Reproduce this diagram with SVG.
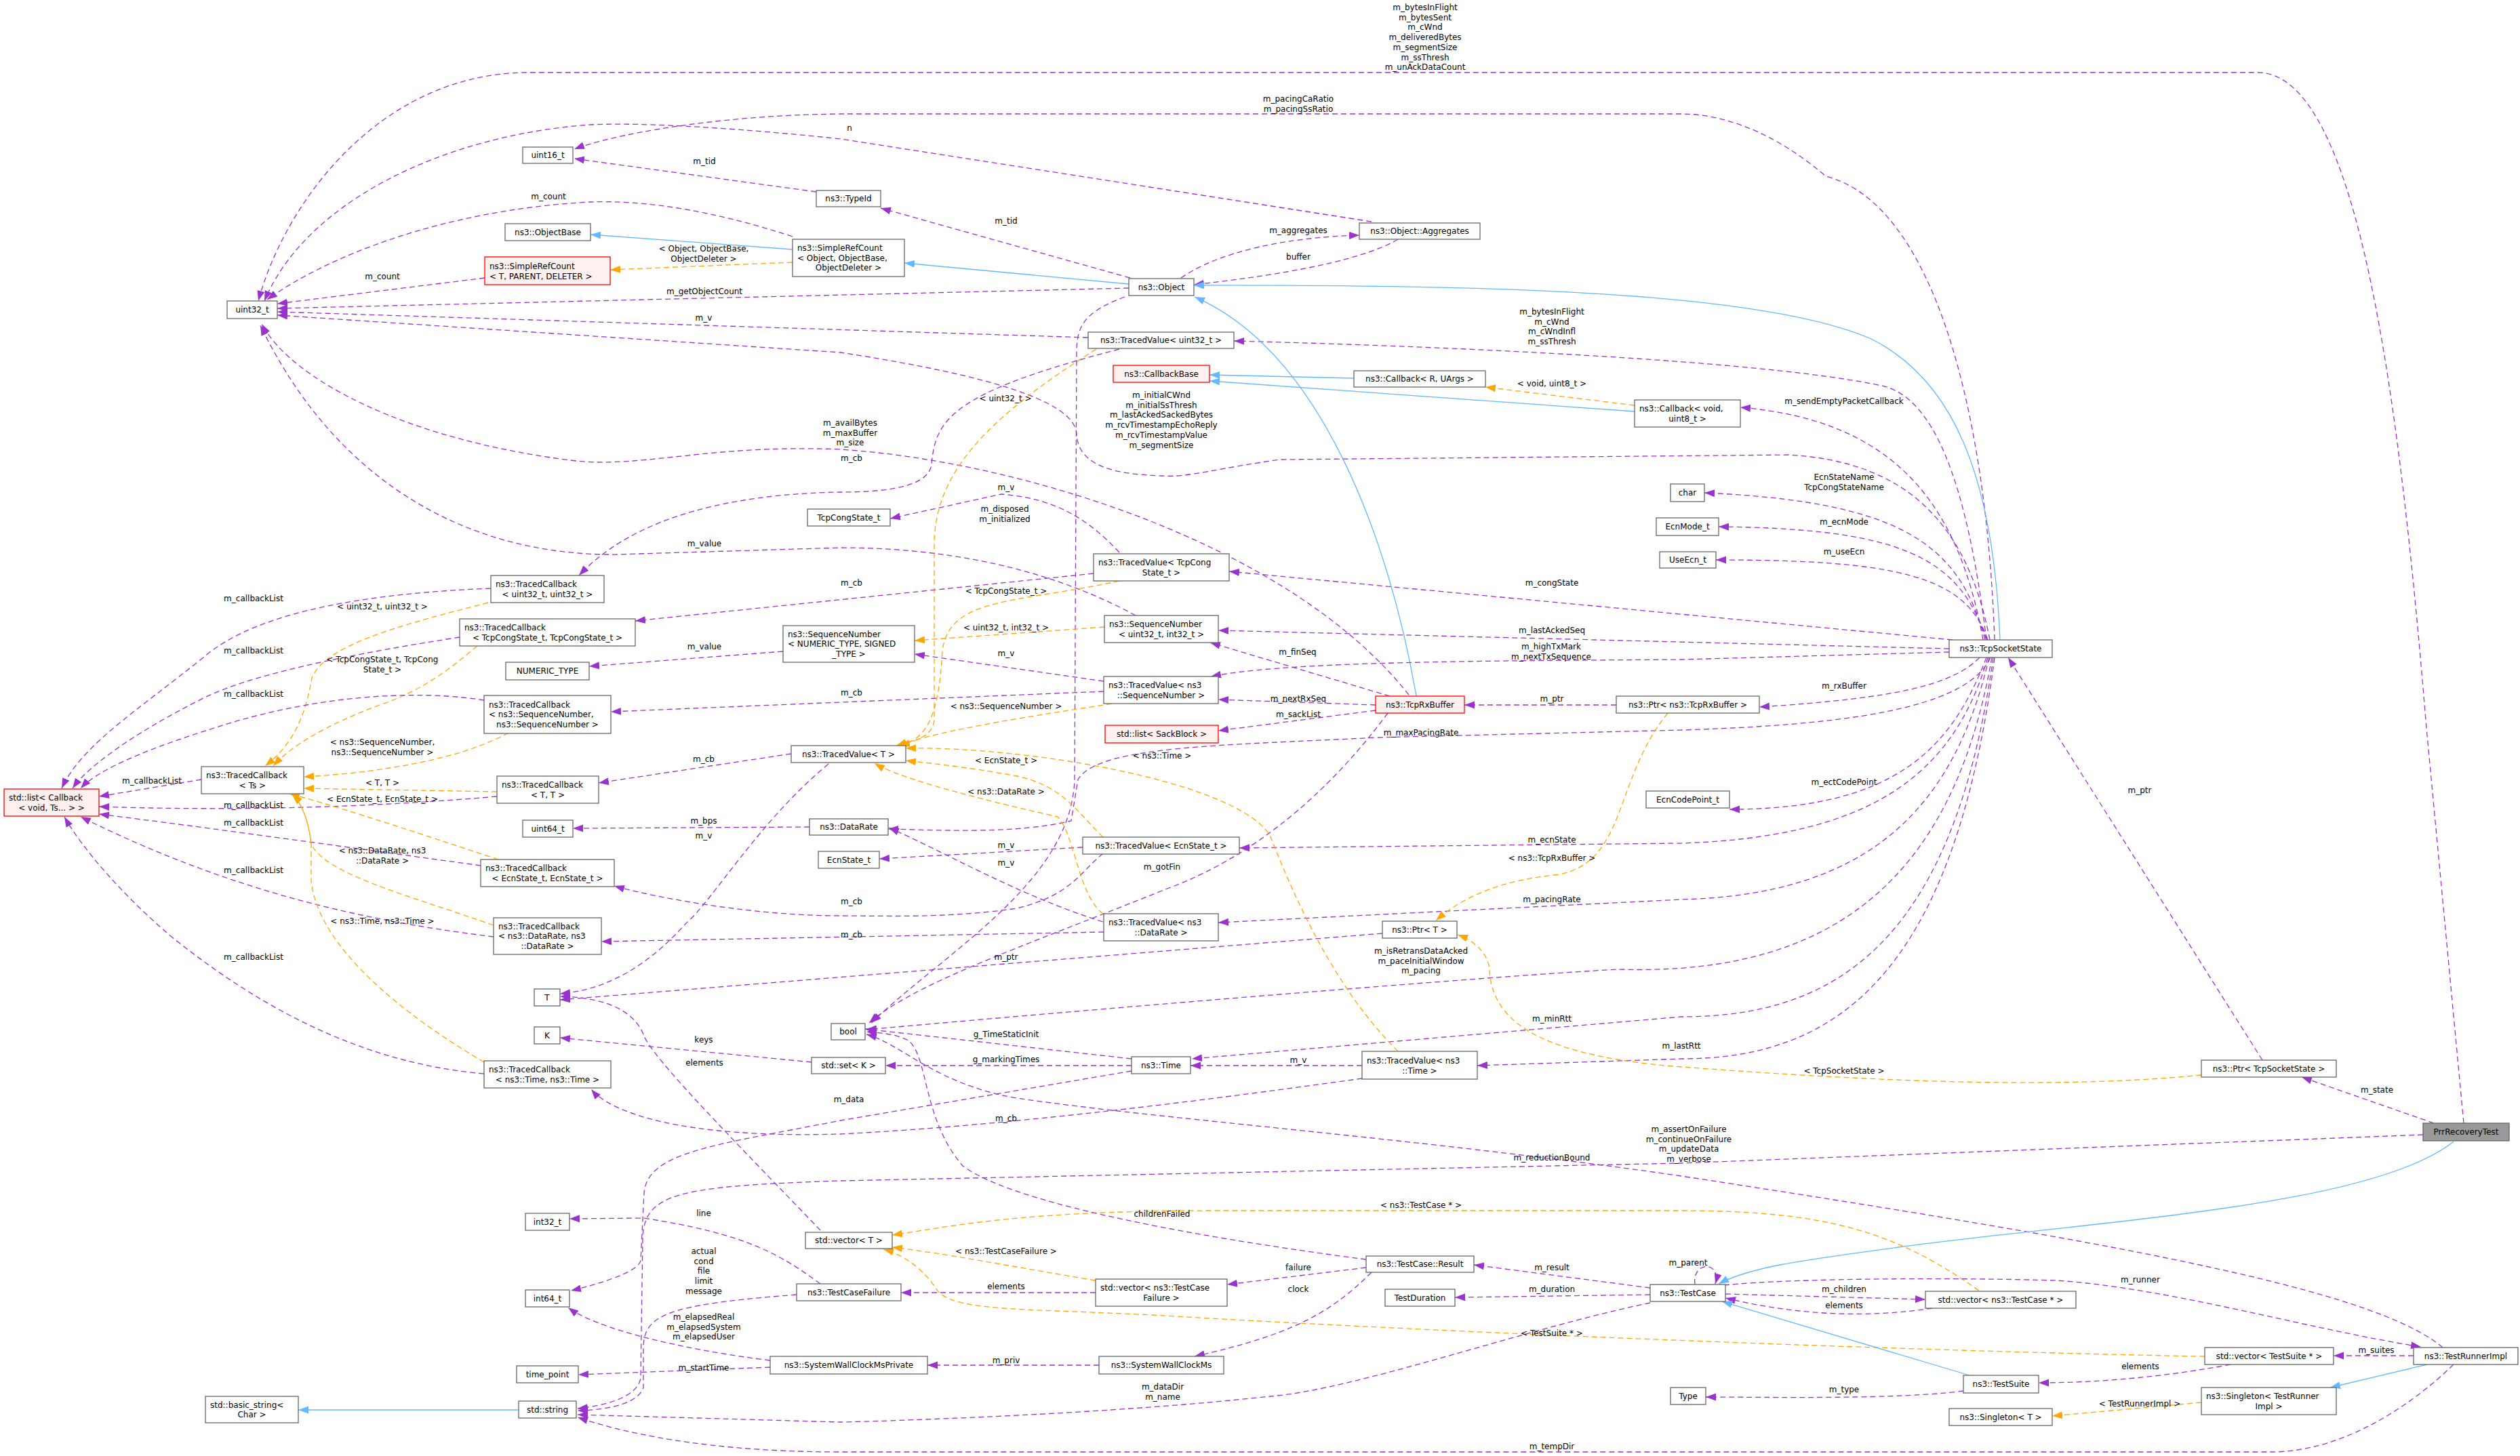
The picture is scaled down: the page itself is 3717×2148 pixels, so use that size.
<svg xmlns="http://www.w3.org/2000/svg" width="3717" height="2148" viewBox="0 0 3717 2148">
<style>
text{font-family:"DejaVu Sans","Liberation Sans",sans-serif;font-size:12px;fill:#000}
.nd rect{fill:#fff;stroke:#666;stroke-width:1.3}
.nd.r rect{fill:#fff0f0;stroke:#f00}
.nd.g rect{fill:#999;stroke:#666}
.lb text{text-anchor:middle}
path.p{fill:none;stroke:#9a32cd;stroke-width:1.3;stroke-dasharray:8,5;marker-end:url(#mp)}
path.o{fill:none;stroke:#ffa500;stroke-width:1.3;stroke-dasharray:8,5;marker-end:url(#mo)}
path.b{fill:none;stroke:#63b8ff;stroke-width:1.3;marker-end:url(#mb)}
</style>
<defs>
<marker id="mp" markerUnits="userSpaceOnUse" markerWidth="16" markerHeight="12" refX="15" refY="5.5" orient="auto"><path d="M0,0 L15,5.5 L0,11 z" fill="#9a32cd"/></marker>
<marker id="mo" markerUnits="userSpaceOnUse" markerWidth="16" markerHeight="12" refX="15" refY="5.5" orient="auto"><path d="M0,0 L15,5.5 L0,11 z" fill="#ffa500"/></marker>
<marker id="mb" markerUnits="userSpaceOnUse" markerWidth="16" markerHeight="12" refX="15" refY="5.5" orient="auto"><path d="M0,0 L15,5.5 L0,11 z" fill="#63b8ff"/></marker>
</defs>
<rect width="3717" height="2148" fill="#fff"/>
<g id="connectors">
<path class="p" d="M3634,1657 L3579,1074 C3540,600 3480,107 3330,107 L780,107 C560,107 420,300 381,444"/>
<path class="p" d="M2942,944 C2930,600 2850,300 2693,260 C2600,180 2520,168 2480,168 L1240,168 C1050,170 900,200 847,220"/>
<path class="p" d="M2023,327 L1240,205 C1100,190 950,180 870,184 C650,200 450,300 390,444"/>
<path class="p" d="M1204,283 L847,234"/>
<path class="p" d="M1667,410 L1299,307"/>
<path class="p" d="M1169,349 C1050,310 950,295 870,298 C650,310 480,380 394,442"/>
<path class="b" d="M1169,368 L871,346"/>
<path class="o" d="M1169,387 L900,398"/>
<path class="p" d="M715,410 L409,448"/>
<path class="b" d="M1665,419 L1334,388"/>
<path class="p" d="M1665,425 L409,455"/>
<path class="p" d="M1742,410 C1800,370 1900,350 2005,347"/>
<path class="p" d="M2062,353 C2000,390 1850,410 1761,420"/>
<path class="p" d="M1605,498 L409,460"/>
<path class="p" d="M2930,944 C2900,700 2850,590 2780,570 C2600,530 2100,510 1820,503"/>
<path class="b" d="M2950,944 C2940,700 2880,560 2760,500 C2600,430 2200,420 1761,421"/>
<path class="b" d="M2089,1027 C2050,800 1950,520 1762,438"/>
<path class="p" d="M2935,944 C2900,760 2800,680 2638,671 L1888,678 C1800,690 1750,705 1715,702 C1650,700 1590,690 1588,640 C1585,600 1500,560 1240,520 L409,465"/>
<path class="p" d="M2078,1025 C1900,800 1500,680 1240,663 C1050,655 950,690 850,680 C600,650 430,560 386,478"/>
<path class="p" d="M1651,515 C1400,580 1380,620 1374,685 C1370,720 1300,726 1240,726 C1000,730 900,800 854,849"/>
<path class="o" d="M1617,515 C1450,620 1380,700 1378,800 L1378,1060 C1378,1085 1350,1095 1322,1100"/>
<path class="p" d="M1659,438 C1600,460 1588,480 1588,520 L1585,1150 C1580,1300 1400,1400 1285,1509"/>
<path class="p" d="M1651,815 C1600,760 1550,735 1477,729 L1313,765"/>
<path class="p" d="M1675,908 C1550,840 1400,808 1240,808 L909,818 C700,820 500,720 384,480"/>
<path class="p" d="M1613,846 L937,916"/>
<path class="o" d="M1651,857 C1500,890 1400,880 1390,960 C1385,1050 1370,1090 1327,1100"/>
<path class="o" d="M1629,925 L1349,945"/>
<path class="p" d="M1628,1005 L1349,965"/>
<path class="p" d="M1628,1020 L901,1050"/>
<path class="o" d="M1640,1038 C1500,1060 1400,1075 1322,1100"/>
<path class="p" d="M1155,961 L869,983"/>
<path class="p" d="M2050,1027 L1785,948"/>
<path class="p" d="M2029,1040 L1797,1032"/>
<path class="p" d="M2029,1048 L1797,1078"/>
<path class="p" d="M2875,962 L2480,973 C2200,975 1900,975 1786,998"/>
<path class="p" d="M2875,957 L1797,930"/>
<path class="p" d="M2880,944 L1813,843"/>
<path class="p" d="M2384,1040 L2160,1040"/>
<path class="p" d="M2920,970 C2880,1010 2800,1030 2595,1043"/>
<path class="p" d="M2925,944 C2890,750 2800,620 2567,601"/>
<path class="o" d="M2411,598 L2191,571"/>
<path class="b" d="M2411,607 L1784,562"/>
<path class="b" d="M1997,558 L1784,553"/>
<path class="p" d="M2928,944 C2890,800 2800,740 2514,727"/>
<path class="p" d="M2930,944 C2890,820 2800,780 2535,777"/>
<path class="p" d="M2932,944 C2900,850 2800,826 2531,826"/>
<path class="p" d="M2930,970 C2880,1100 2800,1194 2551,1194"/>
<path class="p" d="M2932,970 C2880,1150 2750,1235 2480,1244 L1828,1251"/>
<path class="p" d="M2934,970 C2880,1200 2750,1320 2480,1327 L1797,1361"/>
<path class="p" d="M2936,970 C2900,1050 2700,1070 2480,1077 L2031,1088 C1800,1100 1620,1100 1590,1150 L1580,1211 C1500,1230 1400,1225 1310,1223"/>
<path class="p" d="M2047,1052 C1900,1250 1750,1300 1714,1314 C1500,1400 1350,1450 1282,1509"/>
<path class="p" d="M2938,970 C2880,1300 2700,1440 2387,1430 C2200,1440 1600,1490 1278,1519"/>
<path class="p" d="M2940,970 C2880,1400 2700,1500 2480,1500 L1758,1562"/>
<path class="p" d="M2942,970 C2880,1450 2700,1562 2480,1562 L2179,1572"/>
<path class="p" d="M2009,1572 L1756,1572"/>
<path class="p" d="M2009,1591 C1800,1620 1500,1660 1240,1673 C1000,1680 900,1640 872,1607"/>
<path class="o" d="M2062,1551 C1960,1450 1900,1300 1873,1232 C1820,1150 1500,1100 1336,1104"/>
<path class="p" d="M1669,1562 L1276,1518"/>
<path class="p" d="M1669,1572 L1306,1572"/>
<path class="p" d="M1669,1580 L1240,1653 C1050,1690 955,1700 950,1760 L945,1860 C940,1880 860,1900 842,1904"/>
<path class="p" d="M1197,1567 L826,1531"/>
<path class="p" d="M1210,1815 C1100,1700 960,1560 949,1526 C930,1480 870,1471 826,1470"/>
<path class="p" d="M1222,1127 C1120,1211 1050,1330 1012,1362 C960,1420 900,1460 826,1466"/>
<path class="p" d="M1167,1112 L883,1155"/>
<path class="p" d="M1194,1220 L845,1222"/>
<path class="p" d="M1597,1250 L1297,1267"/>
<path class="p" d="M1627,1259 C1590,1290 1580,1320 1500,1340 C1400,1355 1300,1351 1240,1351 C1100,1351 950,1320 906,1307"/>
<path class="o" d="M1627,1235 C1590,1200 1570,1160 1500,1145 C1420,1130 1360,1125 1336,1122"/>
<path class="p" d="M1627,1360 C1500,1320 1400,1260 1311,1221"/>
<path class="p" d="M1628,1375 L887,1389"/>
<path class="o" d="M1627,1348 C1590,1320 1585,1230 1560,1205 C1450,1180 1330,1150 1290,1126"/>
<path class="p" d="M2039,1377 L826,1475"/>
<path class="o" d="M2460,1052 C2380,1150 2400,1270 2300,1290 C2200,1300 2150,1330 2118,1358"/>
<path class="o" d="M3247,1586 C3000,1610 2700,1590 2480,1574 C2300,1560 2200,1520 2197,1430 C2195,1410 2180,1390 2150,1379"/>
<path class="p" d="M3337,1564 L2962,970"/>
<path class="p" d="M3590,1657 L3395,1589"/>
<path class="p" d="M3603,1988 C3500,1900 3100,1830 2480,1735 C2100,1680 1700,1650 1500,1620 C1380,1600 1330,1540 1278,1526"/>
<path class="p" d="M3574,1674 L2480,1716 L1240,1742 C1000,1750 950,1760 948,1827 L945,2033 C940,2065 880,2075 852,2078"/>
<path class="b" d="M3619,1684 C3500,1780 3100,1800 2800,1840 C2650,1860 2580,1870 2535,1894"/>
<path class="p" d="M2500,1895 C2495,1860 2540,1860 2530,1894"/>
<path class="p" d="M2545,1909 L2840,1917"/>
<path class="p" d="M2850,1930 C2750,1945 2650,1940 2545,1915"/>
<path class="o" d="M2919,1904 C2800,1820 2700,1786 2480,1786 L1793,1786 C1500,1786 1400,1810 1316,1822"/>
<path class="p" d="M2543,1896 C2650,1885 2900,1885 3033,1889 C3200,1900 3400,1960 3571,1987"/>
<path class="p" d="M3619,2013 C3550,2080 3450,2142 3350,2142 L1240,2142 C1000,2142 880,2100 852,2091"/>
<path class="p" d="M3560,2000 L3442,2000"/>
<path class="p" d="M3290,2013 C3200,2030 3100,2040 3007,2040"/>
<path class="o" d="M3252,2001 C2900,1995 2200,1970 1700,1940 C1500,1930 1400,1935 1380,1900 C1360,1870 1330,1850 1303,1843"/>
<path class="b" d="M2905,2029 L2540,1920"/>
<path class="p" d="M2896,2052 C2800,2065 2600,2061 2516,2061"/>
<path class="b" d="M3580,2013 L3437,2047"/>
<path class="o" d="M3247,2069 L3027,2089"/>
<path class="p" d="M2434,1900 L2174,1866"/>
<path class="p" d="M2434,1910 L2146,1914"/>
<path class="p" d="M2434,1922 C2250,1960 2000,2050 1873,2060 C1600,2090 1240,2098 1240,2098 L852,2087"/>
<path class="p" d="M2015,1870 L1810,1895"/>
<path class="p" d="M2023,1877 C1960,1940 1900,1970 1762,2001"/>
<path class="p" d="M2015,1858 C1800,1830 1500,1780 1420,1720 C1360,1650 1370,1560 1340,1535 C1320,1525 1300,1524 1278,1522"/>
<path class="o" d="M1616,1889 C1500,1870 1400,1850 1316,1840"/>
<path class="p" d="M1616,1907 L1329,1907"/>
<path class="p" d="M1210,1894 C1150,1850 1100,1820 949,1797 L840,1798"/>
<path class="p" d="M1175,1910 C980,1925 949,1940 949,1990 L949,2047 C940,2075 880,2081 852,2081"/>
<path class="p" d="M1136,2007 C1000,1990 880,1960 838,1929"/>
<path class="p" d="M1136,2017 L853,2028"/>
<path class="p" d="M1621,2014 L1368,2014"/>
<path class="b" d="M765,2080 L440,2080"/>
<path class="p" d="M724,868 C550,875 380,900 300,970 C200,1050 120,1100 91,1163"/>
<path class="o" d="M720,889 C600,920 480,950 460,1000 C450,1060 430,1100 391,1130"/>
<path class="p" d="M678,940 C550,960 380,990 300,1030 C200,1080 130,1130 107,1163"/>
<path class="o" d="M704,953 C660,990 620,1020 560,1040 C480,1070 430,1100 403,1130"/>
<path class="p" d="M714,1033 C600,1015 450,1030 316,1074 C200,1110 140,1140 119,1163"/>
<path class="o" d="M750,1081 C680,1120 560,1140 448,1146"/>
<path class="p" d="M297,1150 L146,1175"/>
<path class="o" d="M733,1168 L448,1163"/>
<path class="p" d="M733,1175 C500,1195 300,1195 146,1190"/>
<path class="o" d="M735,1268 C650,1240 500,1190 427,1171"/>
<path class="p" d="M709,1277 C550,1255 300,1220 146,1201"/>
<path class="o" d="M728,1365 C600,1320 480,1290 459,1245 C455,1210 445,1185 431,1172"/>
<path class="p" d="M728,1382 C550,1360 350,1320 119,1205"/>
<path class="o" d="M714,1567 C600,1500 470,1400 459,1300 L459,1245 C455,1210 445,1185 431,1172"/>
<path class="p" d="M714,1584 C550,1570 400,1500 253,1382 C180,1320 120,1250 95,1205"/>
</g>
<g class="lb">
<text x="2102" y="15">m_bytesInFlight</text><text x="2102" y="29.7">m_bytesSent</text><text x="2102" y="44.4">m_cWnd</text><text x="2102" y="59.1">m_deliveredBytes</text><text x="2102" y="73.8">m_segmentSize</text><text x="2102" y="88.5">m_ssThresh</text><text x="2102" y="103.2">m_unAckDataCount</text>
<text x="1915" y="150">m_pacingCaRatio</text><text x="1915" y="164.7">m_pacingSsRatio</text>
<text x="1253" y="193">n</text>
<text x="1039" y="242">m_tid</text>
<text x="1484" y="330">m_tid</text>
<text x="809" y="294">m_count</text>
<text x="1038" y="371">&lt; Object, ObjectBase,</text><text x="1038" y="386">ObjectDeleter &gt;</text>
<text x="564" y="412">m_count</text>
<text x="1039" y="434">m_getObjectCount</text>
<text x="1915" y="344">m_aggregates</text>
<text x="1915" y="383">buffer</text>
<text x="1038" y="473">m_v</text>
<text x="2289" y="464">m_bytesInFlight</text><text x="2289" y="478.7">m_cWnd</text><text x="2289" y="493.4">m_cWndInfl</text><text x="2289" y="508.1">m_ssThresh</text>
<text x="1713" y="587">m_initialCWnd</text><text x="1713" y="601.7">m_initialSsThresh</text><text x="1713" y="616.4">m_lastAckedSackedBytes</text><text x="1713" y="631.1">m_rcvTimestampEchoReply</text><text x="1713" y="645.8">m_rcvTimestampValue</text><text x="1713" y="660.5">m_segmentSize</text>
<text x="1254" y="628">m_availBytes</text><text x="1254" y="642.7">m_maxBuffer</text><text x="1254" y="657.4">m_size</text>
<text x="1256" y="680">m_cb</text>
<text x="1483" y="592">&lt; uint32_t &gt;</text>
<text x="1482" y="755">m_disposed</text><text x="1482" y="769.7">m_initialized</text>
<text x="1484" y="723">m_v</text>
<text x="1039" y="806">m_value</text>
<text x="1256" y="864">m_cb</text>
<text x="1484" y="876">&lt; TcpCongState_t &gt;</text>
<text x="1484" y="930">&lt; uint32_t, int32_t &gt;</text>
<text x="1484" y="968">m_v</text>
<text x="1256" y="1026">m_cb</text>
<text x="1484" y="1046">&lt; ns3::SequenceNumber &gt;</text>
<text x="1039" y="958">m_value</text>
<text x="1914" y="966">m_finSeq</text>
<text x="1915" y="1035">m_nextRxSeq</text>
<text x="1915" y="1058">m_sackList</text>
<text x="2288" y="958">m_highTxMark</text><text x="2288" y="972.7">m_nextTxSequence</text>
<text x="2289" y="934">m_lastAckedSeq</text>
<text x="2289" y="864">m_congState</text>
<text x="2289" y="1035">m_ptr</text>
<text x="2720" y="1016">m_rxBuffer</text>
<text x="2720" y="596">m_sendEmptyPacketCallback</text>
<text x="2289" y="570">&lt; void, uint8_t &gt;</text>
<text x="2720" y="708">EcnStateName</text><text x="2720" y="722.7">TcpCongStateName</text>
<text x="2720" y="774">m_ecnMode</text>
<text x="2720" y="818">m_useEcn</text>
<text x="2720" y="1158">m_ectCodePoint</text>
<text x="2289" y="1243">m_ecnState</text>
<text x="2289" y="1331">m_pacingRate</text>
<text x="2096" y="1085">m_maxPacingRate</text>
<text x="1714" y="1283">m_gotFin</text>
<text x="2096" y="1407">m_isRetransDataAcked</text><text x="2096" y="1421.7">m_paceInitialWindow</text><text x="2096" y="1436.4">m_pacing</text>
<text x="2289" y="1507">m_minRtt</text>
<text x="2480" y="1547">m_lastRtt</text>
<text x="1915" y="1568">m_v</text>
<text x="1484" y="1654">m_cb</text>
<text x="1714" y="1119">&lt; ns3::Time &gt;</text>
<text x="1484" y="1530">g_TimeStaticInit</text>
<text x="1484" y="1567">g_markingTimes</text>
<text x="1252" y="1626">m_data</text>
<text x="1038" y="1538">keys</text>
<text x="1039" y="1572">elements</text>
<text x="1038" y="1237">m_v</text>
<text x="1038" y="1124">m_cb</text>
<text x="1038" y="1215">m_bps</text>
<text x="1484" y="1251">m_v</text>
<text x="1256" y="1334">m_cb</text>
<text x="1484" y="1126">&lt; EcnState_t &gt;</text>
<text x="1484" y="1277">m_v</text>
<text x="1256" y="1383">m_cb</text>
<text x="1484" y="1172">&lt; ns3::DataRate &gt;</text>
<text x="1484" y="1416">m_ptr</text>
<text x="2289" y="1270">&lt; ns3::TcpRxBuffer &gt;</text>
<text x="2720" y="1584">&lt; TcpSocketState &gt;</text>
<text x="3156" y="1170">m_ptr</text>
<text x="3506" y="1612">m_state</text>
<text x="2491" y="1670">m_assertOnFailure</text><text x="2491" y="1684.7">m_continueOnFailure</text><text x="2491" y="1699.4">m_updateData</text><text x="2491" y="1714.1">m_verbose</text>
<text x="2289" y="1712">m_reductionBound</text>
<text x="2490" y="1867">m_parent</text>
<text x="2720" y="1906">m_children</text>
<text x="2720" y="1930">elements</text>
<text x="2096" y="1782">&lt; ns3::TestCase * &gt;</text>
<text x="3157" y="1892">m_runner</text>
<text x="2289" y="2138">m_tempDir</text>
<text x="3505" y="1996">m_suites</text>
<text x="3157" y="2020">elements</text>
<text x="2289" y="1971">&lt; TestSuite * &gt;</text>
<text x="2720" y="2054">m_type</text>
<text x="3156" y="2075">&lt; TestRunnerImpl &gt;</text>
<text x="2289" y="1874">m_result</text>
<text x="2289" y="1906">m_duration</text>
<text x="1715" y="2050">m_dataDir</text><text x="1715" y="2064.7">m_name</text>
<text x="1915" y="1874">failure</text>
<text x="1915" y="1906">clock</text>
<text x="1714" y="1795">childrenFailed</text>
<text x="1484" y="1850">&lt; ns3::TestCaseFailure &gt;</text>
<text x="1484" y="1902">elements</text>
<text x="1038" y="1794">line</text>
<text x="1038" y="1850">actual</text><text x="1038" y="1864.7">cond</text><text x="1038" y="1879.4">file</text><text x="1038" y="1894.1">limit</text><text x="1038" y="1908.8">message</text>
<text x="1038" y="1947">m_elapsedReal</text><text x="1038" y="1961.7">m_elapsedSystem</text><text x="1038" y="1976.4">m_elapsedUser</text>
<text x="1038" y="2022">m_startTime</text>
<text x="1484" y="2011">m_priv</text>
<text x="374" y="887">m_callbackList</text>
<text x="564" y="899">&lt; uint32_t, uint32_t &gt;</text>
<text x="374" y="964">m_callbackList</text>
<text x="564" y="977">&lt; TcpCongState_t, TcpCong</text><text x="564" y="991.7">State_t &gt;</text>
<text x="374" y="1028">m_callbackList</text>
<text x="564" y="1099">&lt; ns3::SequenceNumber,</text><text x="564" y="1113.7">ns3::SequenceNumber &gt;</text>
<text x="224" y="1156">m_callbackList</text>
<text x="564" y="1159">&lt; T, T &gt;</text>
<text x="374" y="1192">m_callbackList</text>
<text x="564" y="1183">&lt; EcnState_t, EcnState_t &gt;</text>
<text x="374" y="1218">m_callbackList</text>
<text x="564" y="1259">&lt; ns3::DataRate, ns3</text><text x="564" y="1273.7">::DataRate &gt;</text>
<text x="374" y="1288">m_callbackList</text>
<text x="564" y="1363">&lt; ns3::Time, ns3::Time &gt;</text>
<text x="374" y="1416">m_callbackList</text>
</g>
<g id="n_uint16" class="nd"><rect x="771" y="217" width="74" height="24"/><text x="808" y="233.3" text-anchor="middle">uint16_t</text></g>
<g id="n_objbase" class="nd"><rect x="745" y="330" width="126" height="25"/><text x="808" y="346.8" text-anchor="middle">ns3::ObjectBase</text></g>
<g id="n_src_red" class="nd r"><rect x="715" y="379" width="185" height="41"/><text x="722" y="397">ns3::SimpleRefCount</text><text x="722" y="411.7">&lt; T, PARENT, DELETER &gt;</text></g>
<g id="n_uint32" class="nd"><rect x="335" y="444" width="74" height="26"/><text x="372" y="461.3" text-anchor="middle">uint32_t</text></g>
<g id="n_typeid" class="nd"><rect x="1204" y="281" width="95" height="24"/><text x="1251.5" y="297.3" text-anchor="middle">ns3::TypeId</text></g>
<g id="n_src_obj" class="nd"><rect x="1169" y="353" width="165" height="55"/><text x="1176" y="370">ns3::SimpleRefCount</text><text x="1176" y="384.7">&lt; Object, ObjectBase,</text><text x="1251.5" y="399.4" text-anchor="middle">ObjectDeleter &gt;</text></g>
<g id="n_tc_u32" class="nd"><rect x="724" y="849" width="167" height="40"/><text x="731" y="866">ns3::TracedCallback</text><text x="807.5" y="880.7" text-anchor="middle">&lt; uint32_t, uint32_t &gt;</text></g>
<g id="n_tc_tcs" class="nd"><rect x="678" y="913" width="259" height="40"/><text x="685" y="930">ns3::TracedCallback</text><text x="807.5" y="944.7" text-anchor="middle">&lt; TcpCongState_t, TcpCongState_t &gt;</text></g>
<g id="n_numtype" class="nd"><rect x="746" y="977" width="123" height="26"/><text x="807.5" y="994.3" text-anchor="middle">NUMERIC_TYPE</text></g>
<g id="n_seqnum" class="nd"><rect x="1155" y="923" width="194" height="54"/><text x="1162" y="939.6">ns3::SequenceNumber</text><text x="1162" y="954.3">&lt; NUMERIC_TYPE, SIGNED</text><text x="1252" y="969" text-anchor="middle">_TYPE &gt;</text></g>
<g id="n_tc_seq" class="nd"><rect x="714" y="1026" width="187" height="56"/><text x="721" y="1043.6">ns3::TracedCallback</text><text x="721" y="1058.3">&lt; ns3::SequenceNumber,</text><text x="807.5" y="1073" text-anchor="middle">ns3::SequenceNumber &gt;</text></g>
<g id="n_tcs_t" class="nd"><rect x="1191" y="751" width="122" height="25"/><text x="1252" y="767.8" text-anchor="middle">TcpCongState_t</text></g>
<g id="n_object" class="nd"><rect x="1665" y="411" width="96" height="25"/><text x="1713" y="427.8" text-anchor="middle">ns3::Object</text></g>
<g id="n_aggr" class="nd"><rect x="2005" y="329" width="178" height="24"/><text x="2094" y="345.3" text-anchor="middle">ns3::Object::Aggregates</text></g>
<g id="n_tv_u32" class="nd"><rect x="1605" y="490" width="215" height="24"/><text x="1712.5" y="506.3" text-anchor="middle">ns3::TracedValue&lt; uint32_t &gt;</text></g>
<g id="n_cbbase" class="nd r"><rect x="1642" y="539" width="142" height="25"/><text x="1713" y="555.8" text-anchor="middle">ns3::CallbackBase</text></g>
<g id="n_cb_r" class="nd"><rect x="1997" y="547" width="194" height="24"/><text x="2094" y="563.3" text-anchor="middle">ns3::Callback&lt; R, UArgs &gt;</text></g>
<g id="n_cb_void" class="nd"><rect x="2411" y="590" width="156" height="40"/><text x="2418" y="607">ns3::Callback&lt; void,</text><text x="2489" y="621.7" text-anchor="middle">uint8_t &gt;</text></g>
<g id="n_tv_tcs" class="nd"><rect x="1613" y="817" width="200" height="40"/><text x="1620" y="834">ns3::TracedValue&lt; TcpCong</text><text x="1713" y="848.7" text-anchor="middle">State_t &gt;</text></g>
<g id="n_seq_u32" class="nd"><rect x="1629" y="908" width="168" height="40"/><text x="1636" y="925">ns3::SequenceNumber</text><text x="1713" y="939.7" text-anchor="middle">&lt; uint32_t, int32_t &gt;</text></g>
<g id="n_tv_seq" class="nd"><rect x="1628" y="998" width="169" height="40"/><text x="1635" y="1015">ns3::TracedValue&lt; ns3</text><text x="1712.5" y="1029.7" text-anchor="middle">::SequenceNumber &gt;</text></g>
<g id="n_rxbuf" class="nd r"><rect x="2029" y="1027" width="131" height="25"/><text x="2094.5" y="1043.8" text-anchor="middle">ns3::TcpRxBuffer</text></g>
<g id="n_ptr_rx" class="nd"><rect x="2384" y="1027" width="211" height="25"/><text x="2489.5" y="1043.8" text-anchor="middle">ns3::Ptr&lt; ns3::TcpRxBuffer &gt;</text></g>
<g id="n_char" class="nd"><rect x="2464" y="714" width="50" height="26"/><text x="2489" y="731.3" text-anchor="middle">char</text></g>
<g id="n_ecnmode" class="nd"><rect x="2443" y="764" width="92" height="26"/><text x="2489" y="781.3" text-anchor="middle">EcnMode_t</text></g>
<g id="n_useecn" class="nd"><rect x="2448" y="814" width="83" height="24"/><text x="2489.5" y="830.3" text-anchor="middle">UseEcn_t</text></g>
<g id="n_tss" class="nd"><rect x="2875" y="944" width="152" height="26"/><text x="2951" y="961.3" text-anchor="middle">ns3::TcpSocketState</text></g>
<g id="n_list" class="nd r"><rect x="6" y="1164" width="140" height="40"/><text x="13" y="1181">std::list&lt; Callback</text><text x="76" y="1195.7" text-anchor="middle">&lt; void, Ts... &gt; &gt;</text></g>
<g id="n_tc_ts" class="nd"><rect x="297" y="1131" width="151" height="40"/><text x="304" y="1148">ns3::TracedCallback</text><text x="372.5" y="1162.7" text-anchor="middle">&lt; Ts &gt;</text></g>
<g id="n_tc_tt" class="nd"><rect x="733" y="1145" width="150" height="40"/><text x="740" y="1162">ns3::TracedCallback</text><text x="808" y="1176.7" text-anchor="middle">&lt; T, T &gt;</text></g>
<g id="n_uint64" class="nd"><rect x="771" y="1210" width="74" height="25"/><text x="808" y="1226.8" text-anchor="middle">uint64_t</text></g>
<g id="n_tc_ecn" class="nd"><rect x="709" y="1268" width="197" height="40"/><text x="716" y="1285">ns3::TracedCallback</text><text x="807.5" y="1299.7" text-anchor="middle">&lt; EcnState_t, EcnState_t &gt;</text></g>
<g id="n_tc_dr" class="nd"><rect x="728" y="1354" width="159" height="54"/><text x="735" y="1370.6">ns3::TracedCallback</text><text x="735" y="1385.3">&lt; ns3::DataRate, ns3</text><text x="807.5" y="1400" text-anchor="middle">::DataRate &gt;</text></g>
<g id="n_T" class="nd"><rect x="788" y="1459" width="38" height="25"/><text x="807" y="1475.8" text-anchor="middle">T</text></g>
<g id="n_K" class="nd"><rect x="788" y="1515" width="38" height="25"/><text x="807" y="1531.8" text-anchor="middle">K</text></g>
<g id="n_tc_time" class="nd"><rect x="714" y="1565" width="187" height="40"/><text x="721" y="1582">ns3::TracedCallback</text><text x="807.5" y="1596.7" text-anchor="middle">&lt; ns3::Time, ns3::Time &gt;</text></g>
<g id="n_int32" class="nd"><rect x="775" y="1790" width="65" height="25"/><text x="807.5" y="1806.8" text-anchor="middle">int32_t</text></g>
<g id="n_int64" class="nd"><rect x="775" y="1903" width="65" height="25"/><text x="807.5" y="1919.8" text-anchor="middle">int64_t</text></g>
<g id="n_tp" class="nd"><rect x="762" y="2015" width="91" height="25"/><text x="807.5" y="2031.8" text-anchor="middle">time_point</text></g>
<g id="n_bstr" class="nd"><rect x="303" y="2060" width="137" height="39"/><text x="310" y="2076.5">std::basic_string&lt;</text><text x="371.5" y="2091.2" text-anchor="middle">Char &gt;</text></g>
<g id="n_str" class="nd"><rect x="765" y="2067" width="85" height="25"/><text x="807.5" y="2083.8" text-anchor="middle">std::string</text></g>
<g id="n_tv_t" class="nd"><rect x="1167" y="1100" width="169" height="25"/><text x="1251.5" y="1116.8" text-anchor="middle">ns3::TracedValue&lt; T &gt;</text></g>
<g id="n_dr" class="nd"><rect x="1194" y="1208" width="116" height="24"/><text x="1252" y="1224.3" text-anchor="middle">ns3::DataRate</text></g>
<g id="n_ecnst" class="nd"><rect x="1207" y="1256" width="90" height="25"/><text x="1252" y="1272.8" text-anchor="middle">EcnState_t</text></g>
<g id="n_bool" class="nd"><rect x="1226" y="1510" width="50" height="24"/><text x="1251" y="1526.3" text-anchor="middle">bool</text></g>
<g id="n_set" class="nd"><rect x="1197" y="1560" width="109" height="24"/><text x="1251.5" y="1576.3" text-anchor="middle">std::set&lt; K &gt;</text></g>
<g id="n_vec_t" class="nd"><rect x="1188" y="1818" width="128" height="24"/><text x="1252" y="1834.3" text-anchor="middle">std::vector&lt; T &gt;</text></g>
<g id="n_tcf" class="nd"><rect x="1175" y="1894" width="154" height="25"/><text x="1252" y="1910.8" text-anchor="middle">ns3::TestCaseFailure</text></g>
<g id="n_swcmp" class="nd"><rect x="1136" y="2001" width="232" height="26"/><text x="1252" y="2018.3" text-anchor="middle">ns3::SystemWallClockMsPrivate</text></g>
<g id="n_sack" class="nd r"><rect x="1630" y="1070" width="167" height="26"/><text x="1713.5" y="1087.3" text-anchor="middle">std::list&lt; SackBlock &gt;</text></g>
<g id="n_tv_ecn" class="nd"><rect x="1597" y="1235" width="231" height="25"/><text x="1712.5" y="1251.8" text-anchor="middle">ns3::TracedValue&lt; EcnState_t &gt;</text></g>
<g id="n_tv_dr" class="nd"><rect x="1628" y="1348" width="169" height="40"/><text x="1635" y="1365">ns3::TracedValue&lt; ns3</text><text x="1712.5" y="1379.7" text-anchor="middle">::DataRate &gt;</text></g>
<g id="n_ptr_t" class="nd"><rect x="2039" y="1359" width="110" height="25"/><text x="2094" y="1375.8" text-anchor="middle">ns3::Ptr&lt; T &gt;</text></g>
<g id="n_time" class="nd"><rect x="1669" y="1559" width="87" height="25"/><text x="1712.5" y="1575.8" text-anchor="middle">ns3::Time</text></g>
<g id="n_tv_time" class="nd"><rect x="2009" y="1551" width="170" height="41"/><text x="2016" y="1569">ns3::TracedValue&lt; ns3</text><text x="2094" y="1583.7" text-anchor="middle">::Time &gt;</text></g>
<g id="n_result" class="nd"><rect x="2015" y="1853" width="159" height="24"/><text x="2094.5" y="1869.3" text-anchor="middle">ns3::TestCase::Result</text></g>
<g id="n_vec_tcf" class="nd"><rect x="1616" y="1887" width="194" height="40"/><text x="1623" y="1904">std::vector&lt; ns3::TestCase</text><text x="1713" y="1918.7" text-anchor="middle">Failure &gt;</text></g>
<g id="n_tdur" class="nd"><rect x="2043" y="1902" width="103" height="25"/><text x="2094.5" y="1918.8" text-anchor="middle">TestDuration</text></g>
<g id="n_swcm" class="nd"><rect x="1621" y="2001" width="184" height="26"/><text x="1713" y="2018.3" text-anchor="middle">ns3::SystemWallClockMs</text></g>
<g id="n_testcase" class="nd"><rect x="2434" y="1895" width="111" height="25"/><text x="2489.5" y="1911.8" text-anchor="middle">ns3::TestCase</text></g>
<g id="n_ecp" class="nd"><rect x="2428" y="1167" width="123" height="25"/><text x="2489.5" y="1183.8" text-anchor="middle">EcnCodePoint_t</text></g>
<g id="n_type" class="nd"><rect x="2464" y="2047" width="52" height="25"/><text x="2490" y="2063.8" text-anchor="middle">Type</text></g>
<g id="n_ptr_tss" class="nd"><rect x="3247" y="1564" width="199" height="25"/><text x="3346.5" y="1580.8" text-anchor="middle">ns3::Ptr&lt; TcpSocketState &gt;</text></g>
<g id="n_prr" class="nd g"><rect x="3574" y="1657" width="127" height="26"/><text x="3637.5" y="1674.3" text-anchor="middle">PrrRecoveryTest</text></g>
<g id="n_vec_tc" class="nd"><rect x="2840" y="1905" width="222" height="25"/><text x="2951" y="1921.8" text-anchor="middle">std::vector&lt; ns3::TestCase * &gt;</text></g>
<g id="n_vec_ts" class="nd"><rect x="3252" y="1988" width="190" height="25"/><text x="3347" y="2004.8" text-anchor="middle">std::vector&lt; TestSuite * &gt;</text></g>
<g id="n_tri" class="nd"><rect x="3560" y="1988" width="154" height="25"/><text x="3637" y="2004.8" text-anchor="middle">ns3::TestRunnerImpl</text></g>
<g id="n_suite" class="nd"><rect x="2896" y="2029" width="111" height="26"/><text x="2951.5" y="2046.3" text-anchor="middle">ns3::TestSuite</text></g>
<g id="n_sing_tri" class="nd"><rect x="3247" y="2047" width="199" height="40"/><text x="3254" y="2064">ns3::Singleton&lt; TestRunner</text><text x="3346.5" y="2078.7" text-anchor="middle">Impl &gt;</text></g>
<g id="n_sing_t" class="nd"><rect x="2875" y="2078" width="152" height="25"/><text x="2951" y="2094.8" text-anchor="middle">ns3::Singleton&lt; T &gt;</text></g>
</svg>
